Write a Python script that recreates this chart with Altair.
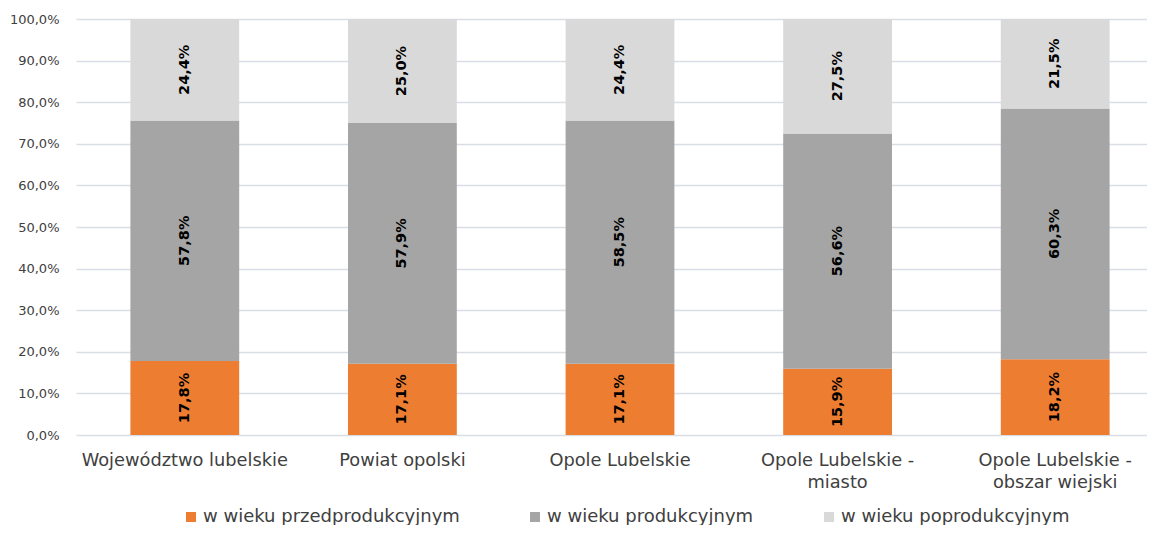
import altair as alt
import pandas as pd

categories = ["Województwo lubelskie", "Powiat opolski", "Opole Lubelskie",
              "Opole Lubelskie - miasto", "Opole Lubelskie - obszar wiejski"]
series = ["w wieku przedprodukcyjnym", "w wieku produkcyjnym", "w wieku poprodukcyjnym"]
colors = ["#ED7D31", "#A5A5A5", "#D9D9D9"]
pre = [17.8, 17.1, 17.1, 15.9, 18.2]
prod = [57.8, 57.9, 58.5, 56.6, 60.3]
post = [24.4, 25.0, 24.4, 27.5, 21.5]
tick_values = [0, 10, 20, 30, 40, 50, 60, 70, 80, 90, 100]

rows = []
for i, c in enumerate(categories):
    for j, (s, vals) in enumerate(zip(series, [pre, prod, post])):
        rows.append({"category": c, "series": s, "order": j, "value": vals[i]})
df = pd.DataFrame(rows)

FONT = "DejaVu Sans"

base = alt.Chart(df).transform_stack(
    stack="value", groupby=["category"], sort=[alt.SortField("order")], as_=["v0", "v1"]
)

x_scale = alt.Scale(paddingInner=0.5, paddingOuter=0.25, range=[0, 1088])

x_enc = alt.X(
    "category:N", sort=categories, scale=x_scale,
    axis=alt.Axis(title=None, labelAngle=0, domain=False, ticks=False, labelPadding=16,
                  labelFontSize=17.8, labelFont=FONT, labelColor="#404040",
                  labelLineHeight=22, labelLimit=300,
                  labelExpr="split(replace(datum.label, ' - ', ' -|'), '|')"),
)

bars = base.mark_bar().encode(
    x=x_enc,
    y=alt.Y("v0:Q", scale=alt.Scale(domain=[0, 100], nice=False),
            axis=alt.Axis(title=None, values=tick_values, grid=True, gridColor="#D9DDE5",
                          gridWidth=1.5, domain=False, ticks=False, labelPadding=17,
                          labelFontSize=13, labelFont=FONT, labelColor="#404040",
                          labelExpr="replace(format(datum.value, '.1f'), '.', ',') + '%'")),
    y2="v1:Q",
    color=alt.Color("series:N", scale=alt.Scale(domain=series, range=colors),
                    legend=alt.Legend(title=None, orient="none", direction="horizontal",
                                      legendX=106, legendY=489, padding=0,
                                      symbolType="square", symbolSize=100, symbolStrokeWidth=0,
                                      labelFontSize=18, labelFont=FONT, labelColor="#404040",
                                      labelOffset=3, columnPadding=66, labelLimit=500)),
    order=alt.Order("order:Q"),
)

texts = base.transform_calculate(
    mid="(datum.v0 + datum.v1) / 2",
    label="replace(format(datum.value, '.1f'), '.', ',') + '%'",
).mark_text(angle=270, fontWeight="bold", fontSize=14.5, font=FONT, color="black",
            align="center", baseline="middle").encode(
    x=alt.X("category:N", sort=categories, scale=x_scale),
    y=alt.Y("mid:Q"),
    text="label:N",
)

chart = alt.layer(bars, texts).properties(
    width=1139, height=416,
    autosize=alt.AutoSizeParams(type="fit-x", contains="padding"),
    padding={"top": 5, "left": 1, "right": 0, "bottom": 34},
).configure_view(stroke=None)

chart.save("out.html", embed_options={"renderer": "svg", "actions": False})
